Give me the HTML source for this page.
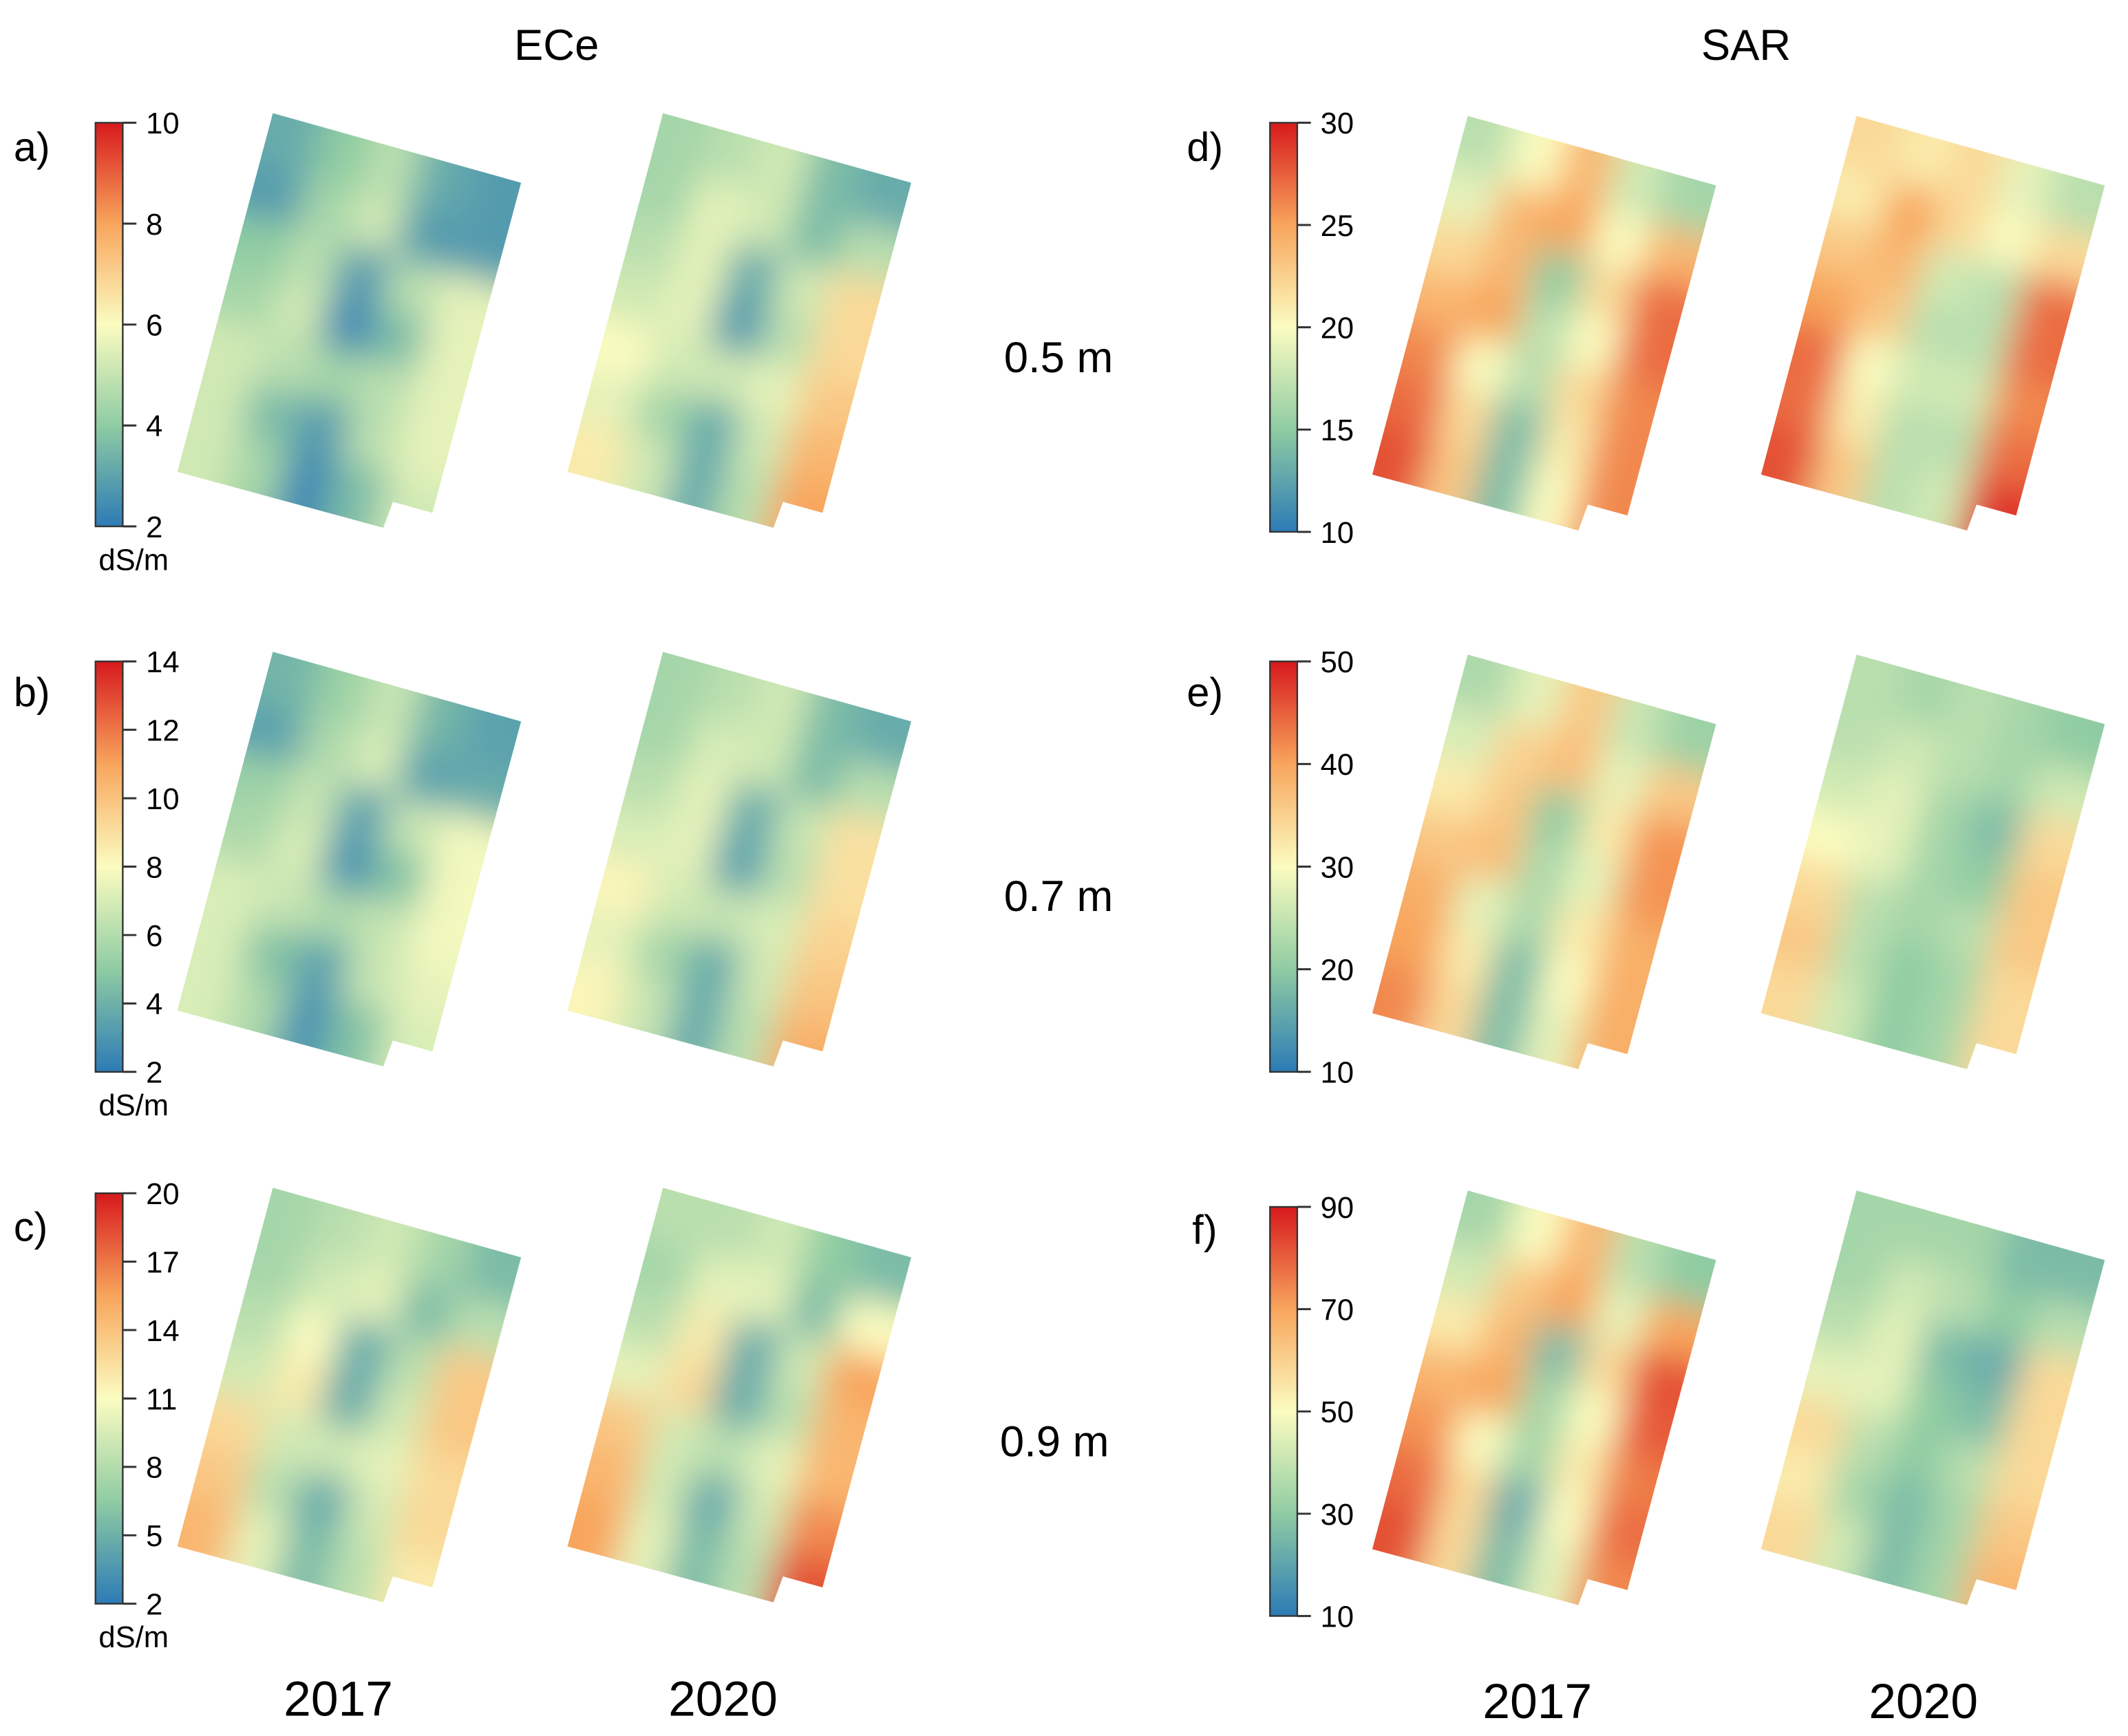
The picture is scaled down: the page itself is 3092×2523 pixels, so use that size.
<!DOCTYPE html>
<html><head><meta charset="utf-8"><style>
html,body{margin:0;padding:0;background:#fff;}
svg{display:block;font-family:"Liberation Sans","DejaVu Sans",sans-serif;}
</style></head><body>
<svg id="fig" xmlns="http://www.w3.org/2000/svg" width="3092" height="2523" viewBox="0 0 1560 1273" preserveAspectRatio="none">
<defs>
<linearGradient id="cbar" x1="0" y1="1" x2="0" y2="0">
<stop offset="0" stop-color="#2c7bb6"/><stop offset="0.25" stop-color="#8fcca3"/><stop offset="0.5" stop-color="#fbfcc0"/><stop offset="0.75" stop-color="#f8a55c"/><stop offset="1" stop-color="#d7191c"/>
</linearGradient>
<filter id="blur" x="-20%" y="-20%" width="140%" height="140%"><feGaussianBlur stdDeviation="13"/></filter>
</defs>
<text x="408" y="44" font-size="32" text-anchor="middle">ECe</text>
<text x="1280" y="44" font-size="32" text-anchor="middle">SAR</text>
<text x="776" y="273" font-size="32" text-anchor="middle">0.5 m</text>
<text x="776" y="668" font-size="32" text-anchor="middle">0.7 m</text>
<text x="773" y="1068" font-size="32" text-anchor="middle">0.9 m</text>
<text x="248" y="1258" font-size="36" text-anchor="middle">2017</text>
<text x="530" y="1258" font-size="36" text-anchor="middle">2020</text>
<text x="1127" y="1260" font-size="36" text-anchor="middle">2017</text>
<text x="1410" y="1260" font-size="36" text-anchor="middle">2020</text>
<g id="content"></g>
</svg>
<script>
// Colorbar tick labels
const ticksA = [2,4,6,8,10];
const ticksB = [2,4,6,8,10,12,14];
const ticksC = [2,5,8,11,14,17,20];
const ticksD = [10,15,20,25,30];
const ticksE = [10,20,30,40,50];
const ticksF = [10,30,50,70,90];
// Normalized map values (0 = low/blue, 1 = high/red), 7 rows x 5 cols
const a17 = [[0.15,0.25,0.35,0.15,0.1],[0.1,0.3,0.4,0.1,0.1],[0.25,0.35,0.1,0.35,0.45],[0.3,0.4,0.05,0.2,0.45],[0.4,0.35,0.3,0.35,0.45],[0.4,0.2,0.1,0.35,0.45],[0.4,0.3,0.05,0.2,0.4]];
const a20 = [[0.3,0.35,0.4,0.2,0.15],[0.3,0.45,0.4,0.2,0.35],[0.35,0.45,0.15,0.4,0.6],[0.4,0.45,0.1,0.35,0.6],[0.5,0.4,0.4,0.45,0.65],[0.45,0.3,0.15,0.4,0.7],[0.55,0.4,0.15,0.35,0.75]];
const b17 = [[0.18,0.28,0.38,0.18,0.12],[0.12,0.32,0.42,0.12,0.15],[0.28,0.38,0.12,0.38,0.48],[0.32,0.42,0.08,0.22,0.48],[0.42,0.38,0.32,0.38,0.48],[0.42,0.22,0.12,0.38,0.45],[0.42,0.32,0.08,0.22,0.42]];
const b20 = [[0.3,0.35,0.4,0.2,0.15],[0.3,0.42,0.4,0.2,0.35],[0.35,0.45,0.15,0.38,0.58],[0.42,0.45,0.12,0.35,0.58],[0.52,0.4,0.38,0.42,0.62],[0.45,0.3,0.15,0.4,0.66],[0.52,0.38,0.15,0.35,0.72]];
const c17 = [[0.3,0.35,0.4,0.3,0.2],[0.3,0.4,0.45,0.2,0.35],[0.35,0.5,0.15,0.35,0.65],[0.4,0.55,0.15,0.4,0.65],[0.6,0.4,0.4,0.45,0.6],[0.65,0.35,0.15,0.4,0.6],[0.7,0.45,0.2,0.35,0.55]];
const c20 = [[0.35,0.35,0.4,0.25,0.2],[0.3,0.45,0.45,0.2,0.5],[0.35,0.55,0.15,0.4,0.75],[0.45,0.6,0.15,0.35,0.7],[0.65,0.4,0.35,0.45,0.7],[0.7,0.4,0.15,0.4,0.8],[0.75,0.45,0.2,0.35,0.9]];
const d17 = [[0.35,0.5,0.7,0.4,0.3],[0.45,0.7,0.75,0.5,0.7],[0.6,0.7,0.25,0.6,0.85],[0.7,0.75,0.35,0.5,0.85],[0.8,0.5,0.35,0.6,0.8],[0.85,0.6,0.2,0.55,0.8],[0.9,0.65,0.2,0.5,0.8]];
const d20 = [[0.6,0.55,0.6,0.45,0.35],[0.55,0.75,0.6,0.5,0.6],[0.65,0.7,0.4,0.35,0.85],[0.75,0.65,0.35,0.35,0.85],[0.85,0.5,0.4,0.4,0.8],[0.85,0.55,0.35,0.35,0.85],[0.9,0.65,0.35,0.4,0.95]];
const e17 = [[0.32,0.45,0.65,0.38,0.28],[0.42,0.62,0.68,0.45,0.65],[0.55,0.65,0.25,0.55,0.78],[0.65,0.68,0.32,0.45,0.78],[0.72,0.45,0.32,0.55,0.72],[0.75,0.55,0.2,0.5,0.72],[0.8,0.6,0.2,0.45,0.72]];
const e20 = [[0.35,0.3,0.35,0.3,0.25],[0.35,0.4,0.35,0.3,0.4],[0.4,0.45,0.3,0.2,0.6],[0.5,0.45,0.3,0.25,0.65],[0.6,0.35,0.3,0.35,0.65],[0.65,0.35,0.25,0.3,0.6],[0.6,0.4,0.25,0.3,0.6]];
const f17 = [[0.3,0.5,0.7,0.35,0.25],[0.4,0.65,0.75,0.45,0.75],[0.55,0.7,0.2,0.6,0.9],[0.7,0.75,0.3,0.5,0.88],[0.78,0.5,0.3,0.55,0.82],[0.85,0.6,0.15,0.5,0.85],[0.9,0.6,0.2,0.45,0.8]];
const f20 = [[0.3,0.3,0.3,0.2,0.2],[0.3,0.4,0.35,0.25,0.35],[0.35,0.45,0.2,0.15,0.6],[0.45,0.45,0.25,0.2,0.6],[0.6,0.35,0.25,0.35,0.6],[0.55,0.3,0.2,0.3,0.65],[0.6,0.4,0.2,0.3,0.7]];

const NS = "http://www.w3.org/2000/svg";
const root = document.getElementById('content');
function mk(tag, attrs, parent){const e=document.createElementNS(NS,tag);for(const k in attrs)e.setAttribute(k,attrs[k]);(parent||root).appendChild(e);return e;}
const stops=[[0,[44,123,182]],[0.25,[143,204,163]],[0.5,[251,252,192]],[0.75,[248,165,92]],[1,[215,25,28]]];
function color(v){v=Math.max(0,Math.min(1,v));for(let i=1;i<stops.length;i++){if(v<=stops[i][0]){const a=stops[i-1],b=stops[i];const t=(v-a[0])/(b[0]-a[0]);const c=a[1].map((x,j)=>Math.round(x+(b[1][j]-x)*t));return `rgb(${c[0]},${c[1]},${c[2]})`;}}return 'rgb(215,25,28)';}

// Quad corners relative to top-left (TL, TR, BR, BL)
const Q=[[0,0],[182,51],[112,312],[-70,263]];
function pt(ox,oy,u,v){
  const x=(1-u)*(1-v)*Q[0][0]+u*(1-v)*Q[1][0]+u*v*Q[2][0]+(1-u)*v*Q[3][0];
  const y=(1-u)*(1-v)*Q[0][1]+u*(1-v)*Q[1][1]+u*v*Q[2][1]+(1-u)*v*Q[3][1];
  return [ox+x,oy+y];
}
let clipId=0;
function drawMap(grid, ox, oy, name){
  const g = mk('g',{});
  
  
  const id='clip'+(clipId++);
  const cp=mk('clipPath',{id:id},g);
  const rel=[[0,0],[182,51],[117,293],[88,285],[81,304],[-70,263]];
  mk('polygon',{points:rel.map(p=>(ox+p[0])+','+(oy+p[1])).join(' ')},cp);
  const inner=mk('g',{'clip-path':`url(#${id})`},g);
  const blurG=mk('g',{filter:'url(#blur)'},inner);
  const R=grid.length, C=grid[0].length;
  for(let r=-2;r<=R+1;r++)for(let c=-2;c<=C+1;c++){
    const rr=Math.max(0,Math.min(R-1,r)), cc=Math.max(0,Math.min(C-1,c));
    const u0=c/C,u1=(c+1)/C,v0=r/R,v1=(r+1)/R;
    const q=[pt(ox,oy,u0,v0),pt(ox,oy,u1,v0),pt(ox,oy,u1,v1),pt(ox,oy,u0,v1)];
    const cell=mk('polygon',{points:q.map(p=>p.join(',')).join(' '),fill:color(grid[rr][cc]),stroke:color(grid[rr][cc]),'stroke-width':1},blurG);
    
    
  }
}
function drawBar(x, y0, y1, ticks, name, unit){
  const g=mk('g',{});
  
  
  mk('rect',{x:x,y:y0,width:20,height:y1-y0,fill:'url(#cbar)',stroke:'#333','stroke-width':1.2},g);
  const lo=ticks[0],hi=ticks[ticks.length-1];
  ticks.forEach(t=>{
    const y=y1-(t-lo)/(hi-lo)*(y1-y0);
    mk('line',{x1:x+20,x2:x+30,y1:y,y2:y,stroke:'#333','stroke-width':1.5},g);
    const tx=mk('text',{x:x+37,y:y+8,'font-size':22},g);
    tx.textContent=t;
    
    
  });
  if(unit){const u=mk('text',{x:x+28,y:y1+32,'font-size':22,'text-anchor':'middle'},g);u.textContent=unit;
    
    }
}
function label(x,y,t,name){const e=mk('text',{x:x,y:y,'font-size':30});e.textContent=t;
  
  }

const rowsY=[83,478,871];
const eceGrids=[[a17,a20],[b17,b20],[c17,c20]];
const sarGrids=[[d17,d20],[e17,e20],[f17,f20]];
const names=['a','b','c','d','e','f'];
for(let i=0;i<3;i++){
  drawMap(eceGrids[i][0],200,rowsY[i],'ece-map-'+names[i]+'-2017');
  drawMap(eceGrids[i][1],486,rowsY[i],'ece-map-'+names[i]+'-2020');
  drawMap(sarGrids[i][0],1076,rowsY[i]+2,'sar-map-'+names[i+3]+'-2017');
  drawMap(sarGrids[i][1],1361,rowsY[i]+2,'sar-map-'+names[i+3]+'-2020');
}
drawBar(70,90,386,ticksA,'colorbar-a','dS/m');
drawBar(70,485,786,ticksB,'colorbar-b','dS/m');
drawBar(70,875,1176,ticksC,'colorbar-c','dS/m');
drawBar(931,90,390,ticksD,'colorbar-d',null);
drawBar(931,485,786,ticksE,'colorbar-e',null);
drawBar(931,885,1185,ticksF,'colorbar-f',null);
label(10,118,'a)','panel-label-a');label(10,518,'b)','panel-label-b');label(10,910,'c)','panel-label-c');
label(870,118,'d)','panel-label-d');label(870,518,'e)','panel-label-e');label(874,912,'f)','panel-label-f');
</script>
</body></html>
